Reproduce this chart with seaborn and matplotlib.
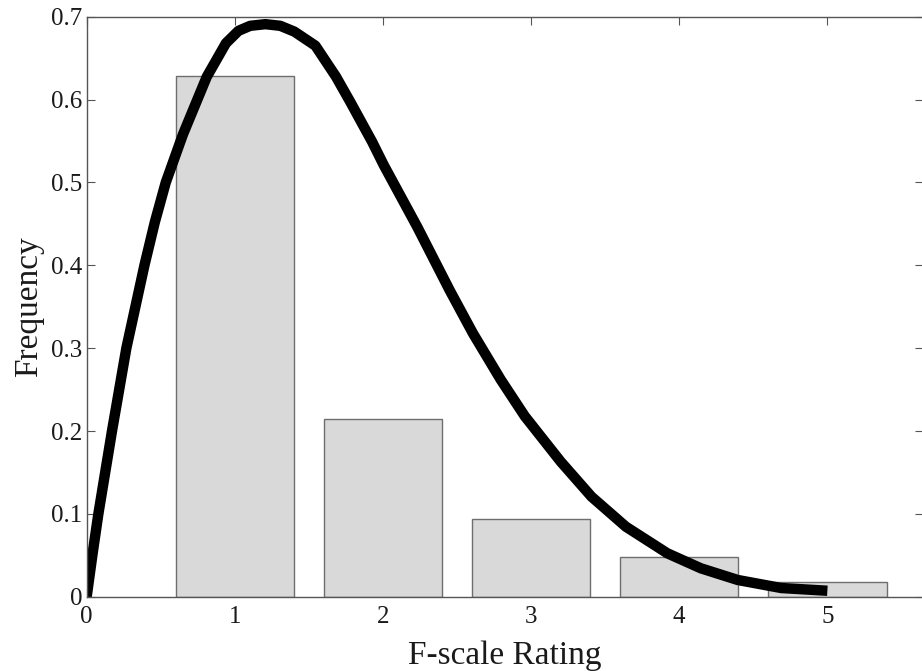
"""F-scale rating frequency with fitted curve"""

import matplotlib
matplotlib.use('Agg')
import matplotlib.pyplot as plt
import seaborn as sns

# bar data
ratings = [1, 2, 3, 4, 5]
freq = [0.628, 0.2144, 0.0938, 0.0475, 0.0174]

# fitted curve, points
curve_x = [0.0, 0.04, 0.079, 0.171, 0.268, 0.39, 0.46, 0.534, 0.65, 0.811,
           0.94, 1.025, 1.104, 1.206, 1.307, 1.402, 1.544, 1.683, 1.78, 1.927,
           2.005, 2.231, 2.45, 2.607, 2.795, 2.957, 3.20, 3.408, 3.64, 3.92,
           4.146, 4.395, 4.688, 5.0]
curve_y = [0.0, 0.052, 0.1, 0.2, 0.3, 0.4, 0.452, 0.5, 0.558, 0.6276,
           0.668, 0.683, 0.689, 0.691, 0.689, 0.682, 0.665, 0.6276, 0.597, 0.549,
           0.521, 0.4465, 0.37, 0.318, 0.262, 0.218, 0.163, 0.1207, 0.0845, 0.0524,
           0.0343, 0.0202, 0.0105, 0.0072]

x_ticks = [0, 1, 2, 3, 4, 5]
y_ticks = [0, 0.1, 0.2, 0.3, 0.4, 0.5, 0.6, 0.7]
y_tick_labels = ['0', '0.1', '0.2', '0.3', '0.4', '0.5', '0.6', '0.7']

sns.set_style('ticks')
plt.rcParams['font.family'] = ['Liberation Serif', 'DejaVu Serif']

fig = plt.figure(figsize=(9.22, 6.71), dpi=100)
ax = fig.add_axes([0.094, 0.1107, 0.907, 0.8644])

sns.barplot(x=ratings, y=freq, native_scale=True, width=0.8, color='#d9d9d9',
            edgecolor='#6e6e6e', linewidth=1, saturation=1, ax=ax)
sns.lineplot(x=curve_x, y=curve_y, color='black', linewidth=7.5, ax=ax,
             solid_capstyle='butt', solid_joinstyle='round')

ax.set_xlim(0, 5.645)
ax.set_ylim(0, 0.7)
ax.set_xticks(x_ticks)
ax.set_xticklabels([str(t) for t in x_ticks])
ax.set_yticks(y_ticks)
ax.set_yticklabels(y_tick_labels)

ax.tick_params(direction='in', length=6, width=0.8, color='#555555',
               top=True, right=True, labelsize=18, labelcolor='#1a1a1a')
ax.tick_params(axis='x', pad=7)
ax.tick_params(axis='y', pad=3)
for side in ['left', 'bottom', 'top']:
    ax.spines[side].set_visible(True)
    ax.spines[side].set_color('#555555')
    ax.spines[side].set_linewidth(1)
ax.spines['right'].set_visible(False)

ax.set_xlabel('F-scale Rating', fontsize=24, color='#1a1a1a', labelpad=9)
ax.set_ylabel('Frequency', fontsize=24, color='#1a1a1a', labelpad=5)

fig.savefig('out.png', dpi=100, facecolor='white')
